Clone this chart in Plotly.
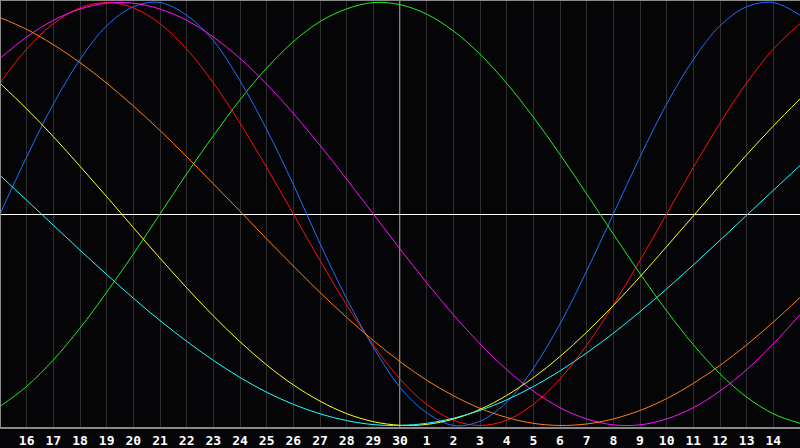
import plotly.graph_objects as go

# Day index 0..30 (index 0 = 15th of previous month, 15 = 30th, 30 = 15th of next month)
days = list(range(31))
tick_positions = list(range(1, 30))
tick_labels = ["16", "17", "18", "19", "20", "21", "22", "23", "24", "25", "26", "27", "28", "29", "30",
               "1", "2", "3", "4", "5", "6", "7", "8", "9", "10", "11", "12", "13", "14"]

# Values at each day gridline
physical = [0.00, 0.27, 0.52, 0.73, 0.89, 0.98, 1.00, 0.94, 0.82, 0.63, 0.40, 0.14, -0.14, -0.40, -0.63, -0.82,
            -0.94, -1.00, -0.98, -0.89, -0.73, -0.52, -0.27, 0.00, 0.27, 0.52, 0.73, 0.89, 0.98, 1.00, 0.94]
emotional = [0.62, 0.78, 0.90, 0.975, 1.00, 0.975, 0.90, 0.78, 0.62, 0.43, 0.22, 0.00, -0.22, -0.43, -0.62, -0.78,
             -0.90, -0.975, -1.00, -0.975, -0.90, -0.78, -0.62, -0.43, -0.22, 0.00, 0.22, 0.43, 0.62, 0.78, 0.90]
intellectual = [-0.91, -0.815, -0.69, -0.54, -0.37, -0.19, 0.00, 0.19, 0.37, 0.54, 0.69, 0.815, 0.91, 0.97, 1.00, 0.99,
                0.945, 0.866, 0.756, 0.618, 0.458, 0.282, 0.095, -0.095, -0.282, -0.458, -0.618, -0.756, -0.866, -0.945, -0.99]
intuitive = [0.736, 0.837, 0.916, 0.969, 0.997, 0.997, 0.969, 0.916, 0.837, 0.736, 0.614, 0.476, 0.325, 0.165, 0.00, -0.165,
             -0.325, -0.476, -0.614, -0.736, -0.837, -0.916, -0.969, -0.997, -0.997, -0.969, -0.916, -0.837, -0.736, -0.614, -0.476]
awareness = [0.929, 0.873, 0.801, 0.716, 0.619, 0.511, 0.395, 0.271, 0.143, 0.013, -0.118, -0.246, -0.371, -0.489, -0.598, -0.698,
             -0.786, -0.859, -0.919, -0.962, -0.990, -1.000, -0.993, -0.969, -0.929, -0.873, -0.801, -0.716, -0.619, -0.511, -0.395]
aesthetic = [0.618, 0.497, 0.366, 0.226, 0.082, -0.064, -0.209, -0.349, -0.482, -0.604, -0.714, -0.808, -0.885, -0.944, -0.982, -0.999,
             -0.995, -0.970, -0.924, -0.858, -0.774, -0.674, -0.559, -0.433, -0.297, -0.154, -0.009, 0.137, 0.280, 0.416, 0.544]
spiritual = [0.183, 0.065, -0.053, -0.171, -0.286, -0.398, -0.504, -0.602, -0.692, -0.773, -0.843, -0.900, -0.945, -0.977, -0.996, -1.000,
             -0.990, -0.966, -0.929, -0.879, -0.816, -0.742, -0.657, -0.564, -0.462, -0.354, -0.241, -0.124, -0.006, 0.112, 0.229]

series = [
    ("Intellectual", intellectual, "#22ee22"),
    ("Emotional", emotional, "#ff1010"),
    ("Physical", physical, "#1f6fff"),
    ("Intuitive", intuitive, "#ff10ff"),
    ("Awareness", awareness, "#ff8010"),
    ("Aesthetic", aesthetic, "#ffff20"),
    ("Spiritual", spiritual, "#20ffff"),
]

fig = go.Figure()
for name, vals, col in series:
    fig.add_trace(go.Scatter(x=days, y=vals, mode="lines", name=name, hoverinfo="skip",
                             line=dict(color=col, width=1, shape="spline", smoothing=1.0)))

# today marker (day 30) and frame
fig.add_shape(type="line", xref="x", yref="paper", x0=15, x1=15, y0=0, y1=1,
              line=dict(color="#ffffff", width=1), layer="below")
fig.add_shape(type="line", xref="paper", yref="paper", x0=0, x1=0, y0=0, y1=1,
              line=dict(color="#8a8a8a", width=2))
fig.add_shape(type="line", xref="paper", yref="paper", x0=0, x1=1, y0=1, y1=1,
              line=dict(color="#8a8a8a", width=2))
fig.add_shape(type="line", xref="paper", yref="paper", x0=0, x1=1, y0=0, y1=0,
              line=dict(color="#8a8a8a", width=2))

fig.update_layout(
    width=800, height=448,
    margin=dict(l=0, r=0, t=0, b=20),
    paper_bgcolor="#050507",
    plot_bgcolor="#050507",
    showlegend=False,
    xaxis=dict(range=[0, 30], tickvals=tick_positions, ticktext=tick_labels,
               showgrid=True, gridcolor="#2e2e2e", gridwidth=1, zeroline=False,
               ticks="", showline=False, ticklabelstandoff=3,
               tickfont=dict(family="DejaVu Sans Mono", size=13, color="#ffffff", weight="bold")),
    yaxis=dict(range=[-1.012, 1.012], showticklabels=False, showgrid=False,
               zeroline=True, zerolinecolor="#ffffff", zerolinewidth=1, ticks=""),
)

fig.write_html("out.html", config={"displayModeBar": False, "staticPlot": True},
               post_script="document.body.style.margin='0';document.body.style.overflow='hidden';"
                           "document.body.style.background='#050507';")
